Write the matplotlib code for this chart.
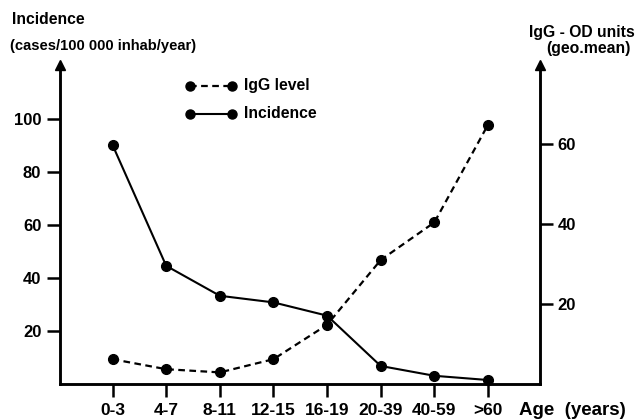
import matplotlib
matplotlib.use('Agg')
import matplotlib.pyplot as plt

plt.rcParams['font.family'] = ['Liberation Sans', 'DejaVu Sans']
plt.rcParams['font.weight'] = 'bold'

# Data
ageGroups = ['0-3', '4-7', '8-11', '12-15', '16-19', '20-39', '40-59', '>60']
incidence = [90.2, 44.6, 33.3, 30.8, 25.8, 6.8, 3.1, 1.5]
iggLevel = [6.2, 3.7, 2.9, 6.2, 14.8, 31.0, 40.4, 64.8]
leftTicks = [20, 40, 60, 80, 100]
rightTicks = [20, 40, 60]

fig = plt.figure(figsize=(6.37, 4.19), dpi=100)
ax = fig.add_axes([60 / 637, 1 - 384 / 419, 480 / 637, 319 / 419])
ax2 = ax.twinx()

xs = list(range(len(ageGroups)))

ax.plot(xs, incidence, color='black', lw=1.5, marker='o', ms=7, clip_on=False, zorder=3)
ax2.plot(xs, iggLevel, color='black', lw=1.6, dashes=(3, 2), marker='o', ms=7, clip_on=False, zorder=3)

ax.set_xlim(-0.98, 7.97)
ax.set_ylim(0, 120.4)
ax2.set_ylim(0, 79.75)

for a in (ax, ax2):
    a.spines['top'].set_visible(False)
    for s in a.spines.values():
        s.set_linewidth(1.8)

ax.set_xticks(xs)
ax.set_xticklabels(ageGroups)
ax.set_yticks(leftTicks)
ax2.set_yticks(rightTicks)
ax.tick_params(axis='x', length=9.5, width=1.8, pad=4, labelsize=12.5)
ax.tick_params(axis='y', length=9.5, width=1.8, pad=4, labelsize=12)
ax2.tick_params(axis='y', length=9.5, width=1.8, pad=3, labelsize=12)

# arrow heads on the vertical axes
for xa in (0, 1):
    ax.plot([xa], [1.0], marker='^', ms=7, color='black', transform=ax.transAxes, clip_on=False)

fig.text(519 / 637, 1 - 410 / 419, 'Age  (years)', fontsize=13.5, va='center')

fig.text(12 / 637, 1 - 20 / 419, 'Incidence', fontsize=11.3, va='center')
fig.text(10 / 637, 1 - 46 / 419, '(cases/100 000 inhab/year)', fontsize=10.6, va='center')
fig.text(635 / 637, 1 - 32 / 419, 'IgG - OD units', fontsize=11.3, va='center', ha='right')
fig.text(631 / 637, 1 - 49 / 419, '(geo.mean)', fontsize=11.3, va='center', ha='right')

# legend drawn by hand as in the original
ax.plot([1.44, 2.23], [112.5, 112.5], color='black', lw=1.6,
        dashes=(3, 2), marker='o', ms=6.5, clip_on=False)
ax.plot([1.44, 2.23], [102, 102], color='black', lw=1.5, marker='o', ms=6.5, clip_on=False)
ax.text(2.45, 112.5, 'IgG level', fontsize=11.3, va='center')
ax.text(2.45, 102, 'Incidence', fontsize=11.3, va='center')

fig.savefig('out.png', dpi=100)
